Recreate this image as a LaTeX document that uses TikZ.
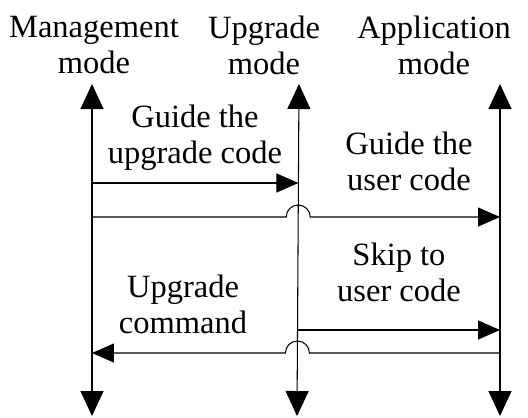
\documentclass[tikz,border=0pt]{standalone}
\usepackage{fontspec}
\setmainfont{Liberation Serif}
\usetikzlibrary{arrows.meta}

\begin{document}
\begin{tikzpicture}[x=0.02cm, y=-0.02cm, line width=0.6pt,
    font=\fontsize{18.5}{20.5}\selectfont,
    life/.style={{Triangle[length=0.5cm,width=0.46cm]}-{Triangle[length=0.5cm,width=0.46cm]}},
    msg/.style={-{Triangle[length=0.44cm,width=0.38cm]}},
    lbl/.style={align=center, inner sep=0pt}]
  \useasboundingbox (0,0) rectangle (528,417);

  % the three mode lines
  \coordinate (mgt) at (92,84);  \coordinate (mgb) at (92,416);
  \coordinate (upt) at (299,84); \coordinate (upb) at (297,416);
  \coordinate (apt) at (500,84); \coordinate (apb) at (500,416);
  \draw[life] (mgb) -- (mgt);
  \draw[life] (upb) -- (upt);
  \draw[life] (apb) -- (apt);

  \node[lbl] (mgmode) at (94,45) {Management\\mode};
  \node[lbl] (upmode) at (264,45) {Upgrade\\mode};
  \node[lbl] (apmode) at (434,45) {Application\\mode};

  % jumps between modes
  \coordinate (m1) at (92,183);  \coordinate (u1) at (298.4,183);
  \draw[msg] (m1) -- (u1);
  \node[lbl] (guideup) at (195,138) {Guide the\\upgrade code};

  \coordinate (m2) at (92,217);  \coordinate (a2) at (500,217);
  \coordinate (j2) at (286.2,217);
  \draw[msg] (m2) -- (j2) arc[start angle=180, end angle=0, radius=0.24cm] -- (a2);
  \node[lbl] (guideuser) at (409,161) {Guide the\\user code};

  \coordinate (u3) at (297.4,330); \coordinate (a3) at (500,330);
  \draw[msg] (u3) -- (a3);
  \node[lbl] (skip) at (399,272) {Skip to\\user code};

  \coordinate (a4) at (500,353); \coordinate (m4) at (92,353);
  \coordinate (j4) at (309.4,353);
  \draw[msg] (a4) -- (j4) arc[start angle=0, end angle=180, radius=0.24cm] -- (m4);
  \node[lbl] (upcmd) at (183,304) {Upgrade\\command};
\end{tikzpicture}
\end{document}
